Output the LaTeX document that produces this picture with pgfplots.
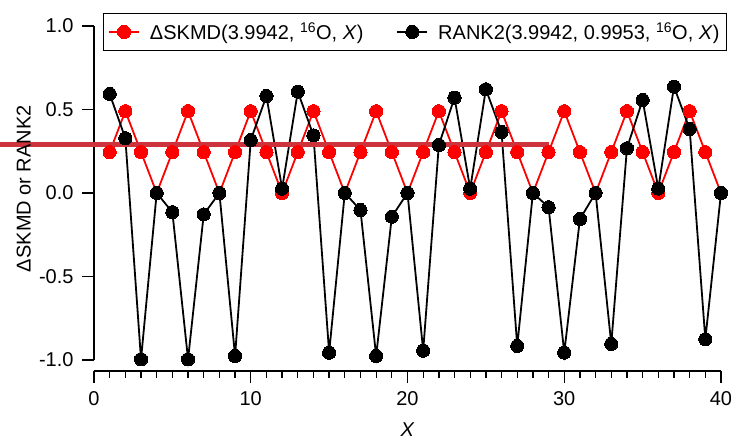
\documentclass[border=0pt]{standalone}
\usepackage{fontspec}
\setmainfont{Liberation Sans}
\usepackage{pgfplots}
\pgfplotsset{compat=1.18}
\usetikzlibrary{calc}
\definecolor{skmdred}{RGB}{255,0,0}
\definecolor{refline}{RGB}{204,51,60}

\begin{document}
\begin{tikzpicture}[font=\fontsize{20}{24}\selectfont]
\begin{axis}[
  width=627pt, height=334pt, scale only axis,
  xmin=0, xmax=40, ymin=-1, ymax=1,
  enlargelimits=false, clip=false,
  axis x line*=bottom, axis y line*=left,
  axis x line shift=11pt,
  axis line style={-, line width=1.3pt, black},
  every tick/.style={black, line width=1.3pt},
  tick align=outside,
  major tick length=12pt, minor tick length=7pt,
  xtick={0,10,20,30,40}, minor x tick num=9,
  ytick={-1,-0.5,0,0.5,1},
  yticklabel style={xshift=-5pt, /pgf/number format/.cd, fixed, fixed zerofill, precision=1},
  xticklabel style={yshift=-5pt},
  /pgf/number format/assume math mode=true,
  xlabel={\textit{X}},
  ylabel={ΔSKMD or RANK2},
  every axis x label/.style={at={(axis description cs:0.5,-0.207)}, anchor=center},
  every axis y label/.style={at={(axis description cs:-0.112,0.513)}, rotate=90, anchor=center},
  legend columns=2,
  legend style={at={(axis description cs:1.0096,1.039)}, anchor=north east,
    draw=black, line width=1pt, inner xsep=5pt, inner ysep=7pt,
    /tikz/every odd column/.append style={column sep=8pt},
    /tikz/every even column/.append style={column sep=31pt}},
  legend image code/.code={\draw[mark repeat=2,mark phase=2] plot coordinates {(0pt,0pt) (15pt,0pt) (30pt,0pt)};},
]
\coordinate (frame sw) at (rel axis cs:0,0);
% Delta SKMD series
\addplot[skmdred, line width=1.8pt, mark=*, mark size=6.6pt,
  mark options={fill=skmdred, draw=skmdred, line width=0pt}] coordinates {
  (1,0.245) (2,0.49) (3,0.245) (4,0) (5,0.245) (6,0.49) (7,0.245) (8,0)
  (9,0.245) (10,0.49) (11,0.245) (12,0) (13,0.245) (14,0.49) (15,0.245) (16,0)
  (17,0.245) (18,0.49) (19,0.245) (20,0) (21,0.245) (22,0.49) (23,0.245) (24,0)
  (25,0.245) (26,0.49) (27,0.245) (28,0) (29,0.245) (30,0.49) (31,0.245) (32,0)
  (33,0.245) (34,0.49) (35,0.245) (36,0) (37,0.245) (38,0.49) (39,0.245) (40,0)
};
\addlegendentry{ΔSKMD(3.9942, \textsuperscript{16}O, \textit{X})}
% RANK2 series
\addplot[black, line width=1.8pt, mark=*, mark size=6.6pt,
  mark options={fill=black, draw=black, line width=0pt}] coordinates {
  (1,0.593) (2,0.328) (3,-0.996) (4,0) (5,-0.115) (6,-0.996) (7,-0.128) (8,0)
  (9,-0.976) (10,0.317) (11,0.581) (12,0.026) (13,0.607) (14,0.345) (15,-0.956) (16,0)
  (17,-0.102) (18,-0.976) (19,-0.142) (20,0) (21,-0.944) (22,0.287) (23,0.571) (24,0.026)
  (25,0.621) (26,0.365) (27,-0.916) (28,0) (29,-0.085) (30,-0.956) (31,-0.156) (32,0)
  (33,-0.904) (34,0.268) (35,0.557) (36,0.026) (37,0.637) (38,0.383) (39,-0.876) (40,0)
};
\addlegendentry{RANK2(3.9942, 0.9953, \textsuperscript{16}O, \textit{X})}
% horizontal reference level
\addplot[refline, line width=4.5pt, forget plot] coordinates {(-6,0.29) (29,0.29)};
\end{axis}
\pgfresetboundingbox
\path[use as bounding box] ($(frame sw)+(-94pt,-79pt)$) rectangle ++(731pt,439pt);
\end{tikzpicture}
\end{document}
